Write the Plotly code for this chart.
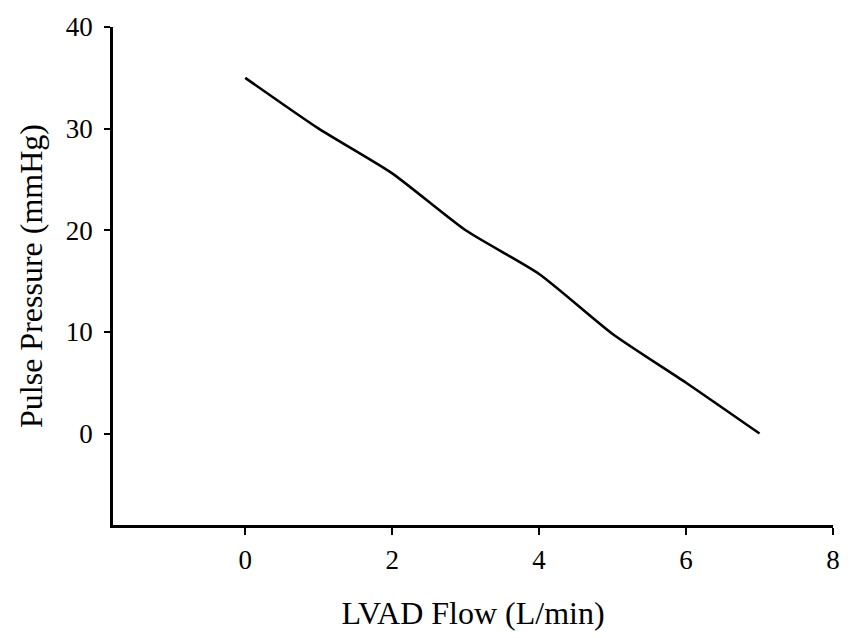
import plotly.graph_objects as go

# LVAD flow (L/min) vs pulse pressure (mmHg)
flow = [0, 1, 2, 3, 4, 5, 6, 7]
pulse_pressure = [35, 30, 25.6, 20, 15.7, 9.8, 5, 0]

x_ticks = [0, 2, 4, 6, 8]
y_ticks = [0, 10, 20, 30, 40]

font_family = "Liberation Serif"

fig = go.Figure(
    go.Scatter(
        x=flow,
        y=pulse_pressure,
        mode="lines",
        line=dict(color="black", width=2.6, shape="spline", smoothing=0.6),
        showlegend=False,
        hoverinfo="skip",
    )
)

fig.update_layout(
    width=852,
    height=638,
    margin=dict(l=113, r=12, t=19, b=109),
    paper_bgcolor="white",
    plot_bgcolor="white",
    font=dict(family=font_family, size=27, color="black"),
    xaxis=dict(
        range=[-1.8, 8],
        tickvals=x_ticks,
        ticks="outside",
        ticklen=7,
        tickwidth=1.5,
        tickcolor="black",
        ticklabelstandoff=2,
        showline=True,
        linecolor="black",
        linewidth=2.5,
        showgrid=False,
        zeroline=False,
        title=dict(text="LVAD Flow (L/min)", font=dict(size=32), standoff=28),
    ),
    yaxis=dict(
        range=[-9, 40],
        tickvals=y_ticks,
        ticks="outside",
        ticklen=6,
        tickwidth=1.5,
        tickcolor="black",
        ticklabelstandoff=6,
        showline=True,
        linecolor="black",
        linewidth=2.5,
        showgrid=False,
        zeroline=False,
        title=dict(text="Pulse Pressure (mmHg)", font=dict(size=32), standoff=14),
    ),
)

fig.write_html("out.html")
